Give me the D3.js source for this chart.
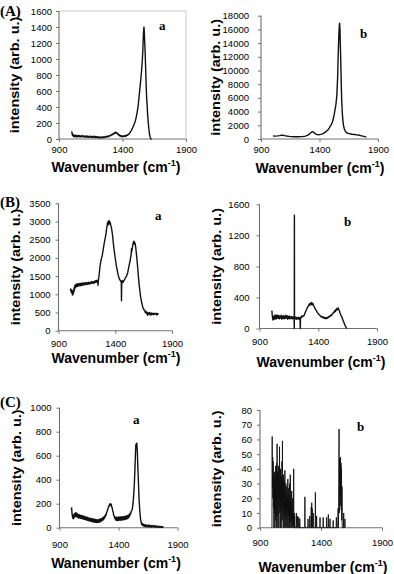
<!DOCTYPE html>
<html><head><meta charset="utf-8">
<script src="https://cdn.jsdelivr.net/npm/d3@7"></script>
<style>
html,body{margin:0;padding:0;background:#fff;}
svg{display:block;}
text{font-family:"Liberation Sans",Arial,sans-serif;fill:#000;}
.serif{font-family:"Liberation Serif","Times New Roman",serif;font-weight:bold;}
</style></head>
<body>
<svg id="chart" width="394" height="574"></svg>
<script>
// ---------------- data ----------------
const xTicks = [900, 1400, 1900];
const yTicksAa = [0,200,400,600,800,1000,1200,1400,1600];
const yTicksAb = [0,2000,4000,6000,8000,10000,12000,14000,16000,18000];
const yTicksBa = [0,500,1000,1500,2000,2500,3000,3500];
const yTicksBb = [0,400,800,1200,1600];
const yTicksCa = [0,200,400,600,800,1000];
const yTicksCb = [0,10,20,30,40,50,60,70,80];

const panelLetters = ["(A)","(B)","(C)"];
const sampleLabels = ["a","b","a","b","a","b"];
const yTitle = "intensity (arb. u.)";
const xTitles = ["Wavenumber","Wavenumber","Wavenumber","Wavenumber","Wanenumber","Wavenumber"];

// spectra: [wavenumber, intensity]
const specAa = [[1000,95],[1003,70],[1006,45],[1009,60],[1012,35],[1015,50],[1018,30],[1022,45],[1026,28],[1030,48],[1034,32],[1038,44],[1042,25],[1046,40],[1050,30],[1055,46],[1060,28],[1065,42],[1070,26],[1075,38],[1080,30],[1085,44],[1090,24],[1095,36],[1100,28],[1105,40],[1110,22],[1115,35],[1120,26],[1125,38],[1130,20],[1135,34],[1140,24],[1145,36],[1150,22],[1155,30],[1160,18],[1165,32],[1170,22],[1175,35],[1180,20],[1185,30],[1190,16],[1195,28],[1200,20],[1205,30],[1210,15],[1215,26],[1220,14],[1225,24],[1230,16],[1235,25],[1240,14],[1245,26],[1250,18],[1255,28],[1260,20],[1265,30],[1270,24],[1275,34],[1280,26],[1285,36],[1290,30],[1295,42],[1300,36],[1305,48],[1310,44],[1315,58],[1320,52],[1325,66],[1330,62],[1335,78],[1340,70],[1345,85],[1350,74],[1355,80],[1360,62],[1365,66],[1370,48],[1375,52],[1380,36],[1385,44],[1390,30],[1395,40],[1400,28],[1405,38],[1410,30],[1415,40],[1420,32],[1425,44],[1430,38],[1435,50],[1440,46],[1445,58],[1450,60],[1455,72],[1460,80],[1465,95],[1470,105],[1475,125],[1480,140],[1485,160],[1490,175],[1495,200],[1500,220],[1505,250],[1510,290],[1515,330],[1520,380],[1525,440],[1530,520],[1535,600],[1540,680],[1545,760],[1550,850],[1555,960],[1560,1100],[1563,1250],[1566,1350],[1569,1400],[1572,1330],[1575,1200],[1578,1100],[1581,950],[1584,800],[1587,650],[1590,520],[1594,420],[1598,300],[1602,220],[1606,150],[1610,90],[1614,50],[1618,20],[1622,5],[1626,0],[1630,0]];

const specAb = [[1004,440],[1020,420],[1040,450],[1060,500],[1080,560],[1090,540],[1100,500],[1120,430],[1140,380],[1160,340],[1180,330],[1200,320],[1220,330],[1240,340],[1260,360],[1280,420],[1300,560],[1315,750],[1325,900],[1335,1050],[1342,1080],[1350,980],[1360,820],[1370,700],[1380,640],[1390,620],[1400,640],[1410,680],[1420,720],[1430,780],[1440,880],[1450,1000],[1460,1150],[1470,1320],[1480,1500],[1490,1800],[1500,2100],[1510,2450],[1520,3100],[1530,4000],[1540,5000],[1548,6300],[1555,9000],[1560,12500],[1565,15000],[1569,16500],[1572,16900],[1575,16000],[1578,13800],[1582,11200],[1586,8000],[1590,5500],[1595,3800],[1600,2700],[1605,2000],[1612,1500],[1620,1150],[1630,950],[1645,830],[1660,760],[1680,700],[1700,650],[1720,600],[1740,540],[1760,460],[1780,380],[1800,280]];

const specBa = [[1005,1100],[1008,1150],[1011,1060],[1014,1120],[1017,1040],[1020,1100],[1023,980],[1026,1080],[1029,1000],[1032,1120],[1035,1060],[1038,1180],[1041,1120],[1044,1240],[1047,1180],[1050,1260],[1053,1200],[1056,1280],[1060,1210],[1064,1290],[1068,1220],[1072,1270],[1076,1230],[1080,1300],[1084,1240],[1088,1290],[1092,1230],[1096,1300],[1100,1250],[1105,1310],[1110,1250],[1115,1300],[1120,1260],[1125,1320],[1130,1260],[1135,1310],[1140,1270],[1145,1320],[1150,1270],[1155,1320],[1160,1280],[1165,1330],[1170,1280],[1175,1320],[1180,1290],[1185,1340],[1190,1300],[1195,1350],[1200,1310],[1205,1340],[1210,1300],[1215,1360],[1220,1320],[1225,1370],[1230,1330],[1235,1380],[1240,1340],[1245,1390],[1248,1250],[1251,1380],[1255,1450],[1260,1600],[1265,1750],[1270,1850],[1275,1950],[1280,2000],[1285,2060],[1290,2150],[1295,2250],[1300,2350],[1305,2440],[1310,2520],[1315,2600],[1320,2700],[1325,2820],[1330,2920],[1333,2980],[1336,2900],[1339,3010],[1342,2940],[1345,3020],[1348,2950],[1351,3000],[1354,2920],[1357,2960],[1360,2900],[1365,2850],[1370,2760],[1375,2650],[1380,2500],[1385,2350],[1390,2220],[1395,2100],[1400,1990],[1405,1880],[1410,1780],[1415,1700],[1420,1620],[1425,1540],[1430,1480],[1435,1430],[1440,1400],[1445,1380],[1450,1350],[1453,1370],[1455,820],[1457,1340],[1460,1310],[1465,1370],[1470,1330],[1475,1380],[1480,1390],[1485,1420],[1490,1450],[1495,1480],[1500,1500],[1505,1550],[1510,1600],[1515,1680],[1520,1760],[1525,1840],[1530,1900],[1535,2000],[1540,2080],[1543,2250],[1545,2170],[1550,2260],[1555,2350],[1560,2440],[1563,2380],[1566,2460],[1570,2420],[1575,2400],[1580,2300],[1585,2150],[1590,2000],[1595,1830],[1600,1650],[1605,1450],[1610,1280],[1615,1150],[1620,1020],[1625,900],[1630,820],[1635,740],[1640,680],[1645,620],[1650,590],[1655,570],[1660,550],[1665,500],[1670,530],[1675,470],[1680,510],[1685,420],[1690,490],[1695,460],[1700,500],[1705,440],[1710,480],[1715,430],[1720,490],[1725,450],[1730,470],[1735,440],[1740,480],[1745,450],[1750,470],[1755,460],[1760,480],[1765,430],[1770,470],[1775,450],[1780,480]];

const specBb = [[1005,230],[1008,180],[1011,140],[1014,110],[1017,150],[1020,120],[1023,160],[1026,130],[1029,170],[1032,120],[1035,160],[1038,130],[1041,175],[1044,125],[1047,165],[1050,135],[1055,170],[1060,130],[1065,165],[1070,125],[1075,160],[1080,135],[1085,170],[1090,120],[1095,160],[1100,130],[1105,165],[1110,125],[1115,160],[1120,130],[1125,170],[1130,135],[1135,165],[1140,120],[1145,155],[1150,130],[1155,160],[1160,125],[1165,150],[1170,130],[1175,155],[1180,125],[1185,150],[1190,130],[1194,140],[1196,0],[1197,1460],[1198,140],[1201,150],[1205,125],[1210,145],[1215,120],[1220,140],[1225,125],[1230,145],[1235,120],[1240,140],[1245,130],[1247,0],[1249,130],[1252,150],[1256,140],[1260,160],[1265,150],[1270,165],[1275,160],[1280,170],[1290,210],[1300,245],[1310,275],[1320,300],[1325,320],[1330,300],[1335,330],[1340,310],[1345,335],[1350,305],[1355,320],[1360,295],[1365,285],[1370,265],[1375,255],[1380,240],[1385,225],[1390,215],[1395,200],[1400,195],[1405,180],[1410,175],[1415,165],[1420,160],[1425,150],[1430,155],[1435,140],[1440,150],[1445,135],[1450,145],[1455,130],[1460,140],[1465,125],[1470,140],[1475,130],[1480,145],[1485,140],[1490,155],[1495,150],[1500,165],[1505,160],[1510,175],[1515,170],[1520,190],[1525,195],[1530,210],[1535,205],[1540,230],[1545,220],[1550,245],[1555,235],[1560,260],[1565,245],[1570,265],[1575,240],[1580,230],[1585,200],[1590,185],[1595,165],[1600,150],[1605,130],[1610,110],[1615,90],[1620,70],[1625,50],[1630,35],[1635,20],[1640,8],[1645,0]];

const specCa = [[1000,150],[1003,165],[1006,120],[1009,100],[1012,80],[1015,105],[1018,75],[1021,110],[1024,85],[1027,115],[1030,90],[1033,120],[1036,95],[1039,125],[1042,95],[1045,120],[1048,90],[1051,115],[1055,85],[1059,110],[1063,80],[1067,108],[1071,82],[1075,105],[1079,78],[1083,102],[1087,80],[1091,100],[1095,74],[1099,98],[1103,72],[1107,95],[1111,70],[1115,92],[1119,68],[1123,90],[1127,66],[1131,88],[1135,62],[1139,85],[1143,60],[1147,82],[1151,58],[1155,80],[1159,56],[1163,78],[1167,54],[1171,76],[1175,52],[1179,74],[1183,50],[1187,72],[1191,48],[1195,70],[1199,46],[1203,68],[1207,45],[1211,66],[1215,44],[1219,64],[1223,45],[1227,66],[1231,46],[1235,68],[1239,48],[1243,70],[1247,50],[1251,74],[1255,55],[1259,78],[1263,60],[1267,84],[1271,66],[1275,90],[1279,75],[1283,98],[1287,88],[1291,110],[1295,105],[1299,128],[1303,130],[1307,150],[1311,155],[1315,175],[1319,175],[1323,195],[1327,185],[1331,200],[1335,190],[1339,195],[1343,170],[1347,165],[1351,140],[1355,130],[1359,105],[1363,100],[1367,80],[1371,90],[1375,65],[1379,88],[1383,62],[1387,86],[1391,60],[1395,88],[1399,62],[1403,90],[1407,64],[1411,88],[1415,62],[1419,90],[1423,64],[1427,92],[1431,66],[1435,90],[1439,64],[1443,92],[1447,68],[1451,94],[1455,70],[1459,96],[1463,72],[1467,98],[1471,74],[1475,100],[1479,78],[1483,104],[1487,84],[1491,110],[1495,96],[1499,120],[1503,115],[1507,135],[1511,140],[1515,150],[1519,170],[1523,200],[1527,250],[1531,310],[1535,380],[1539,480],[1543,600],[1547,690],[1551,700],[1555,705],[1559,650],[1563,530],[1567,430],[1571,320],[1575,230],[1579,160],[1583,110],[1587,70],[1591,50],[1595,30],[1599,38],[1603,20],[1607,30],[1611,15],[1615,28],[1620,12],[1625,25],[1630,10],[1635,22],[1640,8],[1645,20],[1650,10],[1655,22],[1660,6],[1665,18],[1670,8],[1675,20],[1680,5],[1685,16],[1690,8],[1695,18],[1700,5],[1705,15],[1710,6],[1715,16],[1720,4],[1725,14],[1730,5],[1735,12],[1740,3],[1745,12],[1750,4],[1755,10],[1760,2],[1765,10],[1770,3],[1775,8],[1780,2]];

const specCb = [[998,0],[1000,62],[1002,28],[1004,48],[1006,20],[1008,45],[1010,14],[1012,36],[1014,0],[1016,33],[1018,10],[1020,38],[1022,0],[1024,30],[1026,12],[1028,42],[1030,5],[1032,35],[1034,0],[1036,44],[1038,18],[1040,57],[1042,8],[1044,38],[1046,0],[1048,30],[1050,15],[1052,42],[1054,0],[1056,35],[1058,20],[1060,55],[1062,10],[1064,32],[1066,0],[1068,40],[1070,12],[1072,28],[1074,0],[1076,35],[1078,18],[1080,45],[1082,5],[1084,59],[1086,10],[1088,30],[1090,0],[1092,36],[1094,14],[1096,25],[1098,0],[1100,32],[1102,8],[1104,39],[1106,0],[1108,22],[1110,10],[1112,30],[1114,0],[1116,26],[1118,6],[1120,28],[1122,0],[1124,20],[1126,12],[1128,33],[1130,0],[1132,22],[1134,8],[1136,27],[1138,0],[1140,18],[1142,5],[1144,30],[1146,0],[1148,36],[1150,4],[1152,22],[1154,0],[1156,16],[1158,6],[1160,25],[1162,0],[1164,14],[1166,3],[1168,20],[1170,0],[1172,12],[1174,2],[1176,40],[1178,0],[1180,10],[1182,0],[1184,8],[1186,0],[1196,0],[1198,10],[1200,0],[1206,0],[1208,8],[1210,0],[1216,0],[1218,7],[1220,0],[1224,0],[1226,6],[1228,0],[1266,0],[1268,21],[1270,0],[1292,0],[1294,6],[1296,0],[1306,0],[1308,8],[1310,0],[1318,0],[1320,14],[1322,0],[1324,17],[1326,0],[1328,13],[1330,0],[1334,0],[1336,10],[1338,0],[1352,0],[1354,24],[1356,0],[1362,0],[1364,8],[1366,0],[1390,0],[1392,7],[1394,0],[1416,0],[1418,7],[1420,0],[1444,0],[1446,7],[1448,0],[1458,0],[1460,9],[1462,0],[1472,0],[1474,6],[1476,0],[1498,0],[1500,5],[1502,0],[1524,0],[1526,7],[1528,0],[1538,0],[1540,13],[1542,0],[1544,8],[1546,30],[1548,67],[1550,10],[1552,47],[1554,20],[1556,46],[1558,15],[1560,48],[1562,25],[1564,44],[1566,12],[1568,40],[1570,5],[1572,28],[1574,0],[1584,0],[1586,10],[1588,0],[1594,0],[1596,6],[1598,0]];

// ---------------- layout ----------------
const panels = [
  {data:specAa, yTicks:yTicksAa, x0:59, x1:186, yT:11, yB:139, lblGap:7, xPad:4.2, yTitleX:19, xTitleX:116, xTitleY:172, subX:159, subY:30, frame:true},
  {data:specAb, yTicks:yTicksAb, x0:261, x1:378, yT:15.7, yB:139, lblGap:12, xPad:4.2, yTitleX:220, xTitleX:320, xTitleY:173, subX:360, subY:38},
  {data:specBa, yTicks:yTicksBa, x0:58.5, x1:172, yT:203.3, yB:330.7, lblGap:8, xPad:7, yTitleX:20, xTitleX:116, xTitleY:363, subX:155, subY:220},
  {data:specBb, yTicks:yTicksBb, x0:259.5, x1:377, yT:204.3, yB:328.5, lblGap:10, xPad:7, yTitleX:221, xTitleX:321, xTitleY:367, subX:344, subY:226},
  {data:specCa, yTicks:yTicksCa, x0:59.5, x1:177.5, yT:407.7, yB:527.7, lblGap:8, xPad:10.5, yTitleX:21, xTitleX:116, xTitleY:568, subX:133, subY:424},
  {data:specCb, yTicks:yTicksCb, x0:260, x1:382, yT:410, yB:527.7, lblGap:8, xPad:9, yTitleX:221, xTitleX:323, xTitleY:572, subX:357, subY:431}
];
const letterPos = [{x:0,y:16},{x:0,y:207},{x:0,y:407}];

const svg = d3.select("#chart");

panels.forEach((p, i) => {
  const ys = p.yTicks;
  const x = d3.scaleLinear().domain([xTicks[0], xTicks[xTicks.length-1]]).range([p.x0, p.x1]);
  const y = d3.scaleLinear().domain([ys[0], ys[ys.length-1]]).range([p.yB, p.yT]);
  const g = svg.append("g");

  if (p.frame) {
    g.append("path")
      .attr("d", `M${p.x0},${p.yT}H${p.x1}V${p.yB}`)
      .attr("fill","none").attr("stroke","#c8c8c8").attr("stroke-width",1);
  }

  const yAxis = d3.axisLeft(y).tickValues(ys).tickSize(3).tickPadding(p.lblGap-3).tickFormat(d3.format("d"));
  const ya = g.append("g").attr("transform", `translate(${p.x0},0)`).call(yAxis);
  const xAxis = d3.axisBottom(x).tickValues(xTicks).tickSize(3).tickPadding(p.xPad).tickFormat(d3.format("d"));
  const xa = g.append("g").attr("transform", `translate(0,${p.yB})`).call(xAxis);
  [ya, xa].forEach(a => {
    a.select(".domain").attr("stroke","#707070").attr("stroke-width",1.1);
    a.selectAll(".tick line").attr("stroke","#707070");
    a.selectAll(".tick text").attr("font-size","9.5px").attr("fill","#111").attr("font-family","'Liberation Sans',Arial,sans-serif");
  });
  ya.select(".domain").attr("d", `M0,${p.yT}V${p.yB}`);
  xa.select(".domain").attr("d", `M${p.x0},0H${p.x1}`);

  const line = d3.line().x(d => x(d[0])).y(d => y(d[1]));
  g.append("path").datum(p.data)
    .attr("d", line).attr("fill","none")
    .attr("stroke","#111").attr("stroke-width", i===5 ? 0.9 : 1.4)
    .attr("stroke-linejoin","round");

  // y title (glyphs slightly condensed like the scanned original)
  g.append("text")
    .attr("transform", `translate(${p.yTitleX},${(p.yT+p.yB)/2}) rotate(-90) scale(1,0.82)`)
    .attr("text-anchor","middle").attr("font-size","14.5px").attr("font-weight","bold")
    .text(yTitle);
  // x title
  const xt = g.append("text")
    .attr("x", p.xTitleX).attr("y", p.xTitleY)
    .attr("text-anchor","middle").attr("font-size","14px").attr("font-weight","bold");
  xt.append("tspan").text(xTitles[i] + " (cm");
  xt.append("tspan").attr("font-size","9px").attr("dy",-6).text("-1");
  xt.append("tspan").attr("dy",6).text(")");

  // sample label
  g.append("text").attr("class","serif")
    .attr("x", p.subX).attr("y", p.subY).attr("font-size","13px").text(sampleLabels[i]);
});

panelLetters.forEach((t, k) => {
  svg.append("text").attr("class","serif")
    .attr("x", letterPos[k].x).attr("y", letterPos[k].y)
    .attr("font-size","15px").text(t);
});
</script>
</body></html>
